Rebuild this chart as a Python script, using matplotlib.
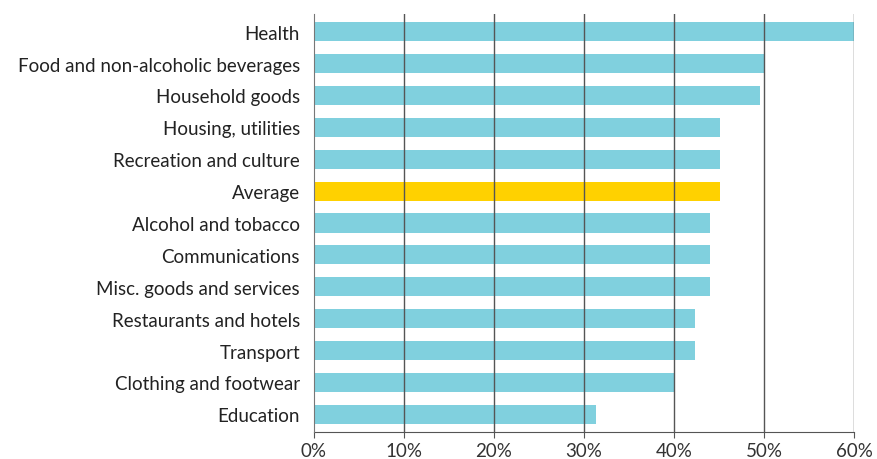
import numpy as np
import matplotlib.pyplot as plt

plt.rcParams['font.family'] = ['Lato', 'DejaVu Sans']

categories = ["Health", "Food and non-alcoholic beverages", "Household goods",
              "Housing, utilities", "Recreation and culture", "Average",
              "Alcohol and tobacco", "Communications", "Misc. goods and services",
              "Restaurants and hotels", "Transport", "Clothing and footwear",
              "Education"]
values = [60.0, 50.0, 49.6, 45.1, 45.1, 45.1, 44.0, 44.0, 44.0, 42.3, 42.3, 40.0, 31.3]
xticks = [0, 10, 20, 30, 40, 50, 60]

blue = "#80d0de"
yellow = "#ffd100"
colors = [yellow if c == "Average" else blue for c in categories]

fig = plt.figure(figsize=(8.78, 4.6), dpi=100)
ax = fig.add_axes([0.3576, 0.059, 0.6151, 0.908])

y = np.arange(len(categories))
ax.barh(y, values, height=0.6, color=colors, zorder=1)

# grid lines sit on top of the bars
for t in xticks[1:]:
    ax.axvline(t, color="#555555", lw=1.0, zorder=3)

ax.set_xlim(0, 60)
ax.set_ylim(len(categories) - 0.45, -0.55)
ax.set_xticks(xticks)
ax.set_xticklabels([f"{t}%" for t in xticks], fontsize=13.5, color="#333333")
ax.set_yticks(y)
ax.set_yticklabels(categories, fontsize=13.5, color="#222222")
ax.tick_params(axis="y", length=0, pad=10)
ax.tick_params(axis="x", length=4, color="#555555", pad=3)

for s in ["top", "right"]:
    ax.spines[s].set_visible(False)
ax.spines["left"].set_color("#777777")
ax.spines["bottom"].set_color("#555555")
ax.spines["left"].set_zorder(4)

fig.savefig("out.png", dpi=100)
